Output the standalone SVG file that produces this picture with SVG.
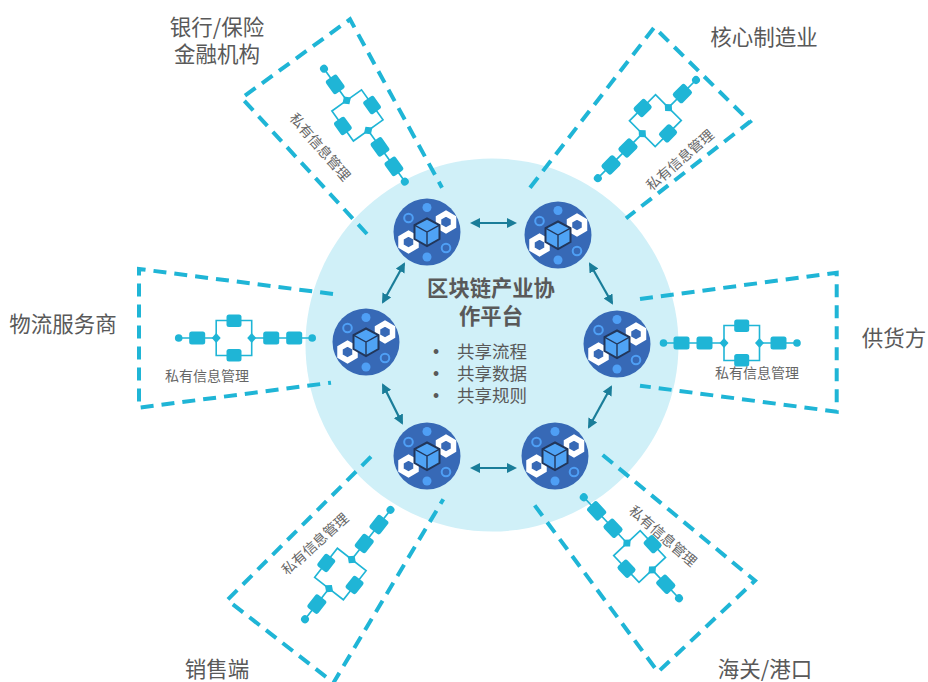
<svg xmlns="http://www.w3.org/2000/svg" xmlns:xlink="http://www.w3.org/1999/xlink" width="928" height="682" viewBox="0 0 928 682">
<style>
text{font-family:"Noto Sans CJK SC","Noto Sans",sans-serif;fill:#595959}
.label{font-size:21.500px;text-anchor:middle}
.small{font-size:14px;text-anchor:middle;fill:#666}
.title{font-size:21.300px;font-weight:700;text-anchor:middle}
.bul{font-size:17.500px}
.dot{font-family:"Liberation Sans",sans-serif;font-size:17.500px}
.zone{fill:none;stroke:#1fb5d6;stroke-width:4;stroke-dasharray:13 8}
.conn{fill:none;stroke:#1a7d99;stroke-width:2.200;marker-start:url(#ah);marker-end:url(#ah)}
.c{fill:#1fb5d6}
.cl{fill:none;stroke:#1fb5d6;stroke-width:1.600}
</style>
<defs>
<marker id="ah" viewBox="0 0 10 10" refX="8" refY="5" markerWidth="4.600" markerHeight="4.600" orient="auto-start-reverse" markerUnits="strokeWidth"><path d="M0 0L10 5L0 10z" fill="#1a7d99"/></marker>
<g id="chain">
<path class="cl" d="M0 0H37.500M73 0H133.500M37.500 0V-17.500H73V17.500H37.500Z"/>
<circle class="c" cx="0" cy="0" r="3.800"/>
<circle class="c" cx="133.500" cy="0" r="3.800"/>
<rect class="c" x="10.500" y="-6.500" width="16" height="13" rx="2.500"/>
<rect class="c" x="47.800" y="-23.500" width="15" height="12.500" rx="2.500"/>
<rect class="c" x="47.800" y="11" width="15" height="12.500" rx="2.500"/>
<rect class="c" x="84.500" y="-6.500" width="16" height="13" rx="2.500"/>
<rect class="c" x="107.500" y="-6.500" width="16" height="13" rx="2.500"/>
<path class="c" d="M37.500 -5L42 0L37.500 5L33 0Z"/>
<path class="c" d="M73 -5L77.500 0L73 5L68.500 0Z"/>
</g>
<g id="blockNode">
<circle r="33.500" fill="#3769b6"/>
<circle cy="-24.500" r="4.500" fill="#4f9ff5"/>
<circle cy="25" r="4.500" fill="#4f9ff5"/>
<circle cx="-18.500" cy="-14" r="4.300" fill="none" stroke="#4f9ff5" stroke-width="2"/>
<circle cx="19" cy="16" r="4.300" fill="none" stroke="#4f9ff5" stroke-width="2"/>
<path d="M19 -18.500L26.500 -14.200V-5.800L19 -1.500L11.500 -5.800V-14.200Z" fill="none" stroke="#fff" stroke-width="5.500"/>
<path d="M-18.500 1.500L-11 5.800V14.200L-18.500 18.500L-26 14.200V5.800Z" fill="none" stroke="#fff" stroke-width="5.500"/>
<path d="M0 -13.500L12.500 -6.800V7L0 14L-12.500 7V-6.800Z" fill="#4fa3f5" stroke="#22365a" stroke-width="2"/>
<path d="M-12.500 -6.800L0 0L12.500 -6.800M0 0V14" fill="none" stroke="#22365a" stroke-width="1.400"/>
</g>
</defs>

<rect width="928" height="682" fill="#fff"/>
<circle id="platform" cx="492" cy="345" r="186.500" fill="#d0f0f8"/>

<g id="zones">
<path class="zone" d="M367 234L241.700 98L350 19.300L442 187.700"/>
<path class="zone" d="M530 187.700L654.300 27.300L750 121.700L626 218.300"/>
<path class="zone" d="M333 294L139 269V407.700L331 382.700"/>
<path class="zone" d="M640 299L836.700 272.700V411.700L640 385.700"/>
<path class="zone" d="M371 456.700L227.300 600L333.500 682.700L443.300 499.300"/>
<path class="zone" d="M602.700 455L755 580.700L658 672L530 499"/>
</g>

<g id="chains">
<use href="#chain" xlink:href="#chain" transform="translate(324 68.700) rotate(54.400) scale(1.040)"/>
<use href="#chain" xlink:href="#chain" transform="translate(696 80) rotate(135) scale(1.040)"/>
<use href="#chain" xlink:href="#chain" transform="translate(178.700 338)"/>
<use href="#chain" xlink:href="#chain" transform="translate(797 343) rotate(180)"/>
<use href="#chain" xlink:href="#chain" transform="translate(305 619.300) rotate(-52) scale(1.040)"/>
<use href="#chain" xlink:href="#chain" transform="translate(679 598.300) rotate(226.700) scale(1.040)"/>
</g>

<g id="connectors">
<path class="conn" d="M472 223H515"/>
<path class="conn" d="M472 468H515"/>
<path class="conn" d="M404 264L383 302"/>
<path class="conn" d="M590 264L612 303"/>
<path class="conn" d="M383 385L402 423"/>
<path class="conn" d="M611 387L589 427"/>
</g>

<g id="node-1"><use href="#blockNode" xlink:href="#blockNode" transform="translate(427 232)"/></g>
<g id="node-2"><use href="#blockNode" xlink:href="#blockNode" transform="translate(558 235)"/></g>
<g id="node-3"><use href="#blockNode" xlink:href="#blockNode" transform="translate(366 342)"/></g>
<g id="node-4"><use href="#blockNode" xlink:href="#blockNode" transform="translate(617 344)"/></g>
<g id="node-5"><use href="#blockNode" xlink:href="#blockNode" transform="translate(427 456)"/></g>
<g id="node-6"><use href="#blockNode" xlink:href="#blockNode" transform="translate(555 456)"/></g>

<g id="center-text">
<text class="title" x="491" y="296">区块链产业协</text>
<text class="title" x="491" y="324">作平台</text>
<text class="dot" x="433" y="358">•</text><text class="bul" x="457" y="358">共享流程</text>
<text class="dot" x="433" y="380">•</text><text class="bul" x="457" y="380">共享数据</text>
<text class="dot" x="433" y="402">•</text><text class="bul" x="457" y="402">共享规则</text>
</g>

<g id="private-labels">
<text class="small" transform="translate(320 147) rotate(49) translate(0 5)">私有信息管理</text>
<text class="small" transform="translate(680 160) rotate(-41) translate(0 5)">私有信息管理</text>
<text class="small" x="207" y="381">私有信息管理</text>
<text class="small" x="757" y="378">私有信息管理</text>
<text class="small" transform="translate(315 544) rotate(-42) translate(0 5)">私有信息管理</text>
<text class="small" transform="translate(663 536) rotate(41) translate(0 5)">私有信息管理</text>
</g>

<g id="party-labels">
<text class="label" x="217" y="35">银行/保险</text>
<text class="label" x="217" y="62">金融机构</text>
<text class="label" x="764" y="45">核心制造业</text>
<text class="label" x="63" y="332">物流服务商</text>
<text class="label" x="894" y="346">供货方</text>
<text class="label" x="217" y="677">销售端</text>
<text class="label" x="765" y="677">海关/港口</text>
</g>
</svg>
